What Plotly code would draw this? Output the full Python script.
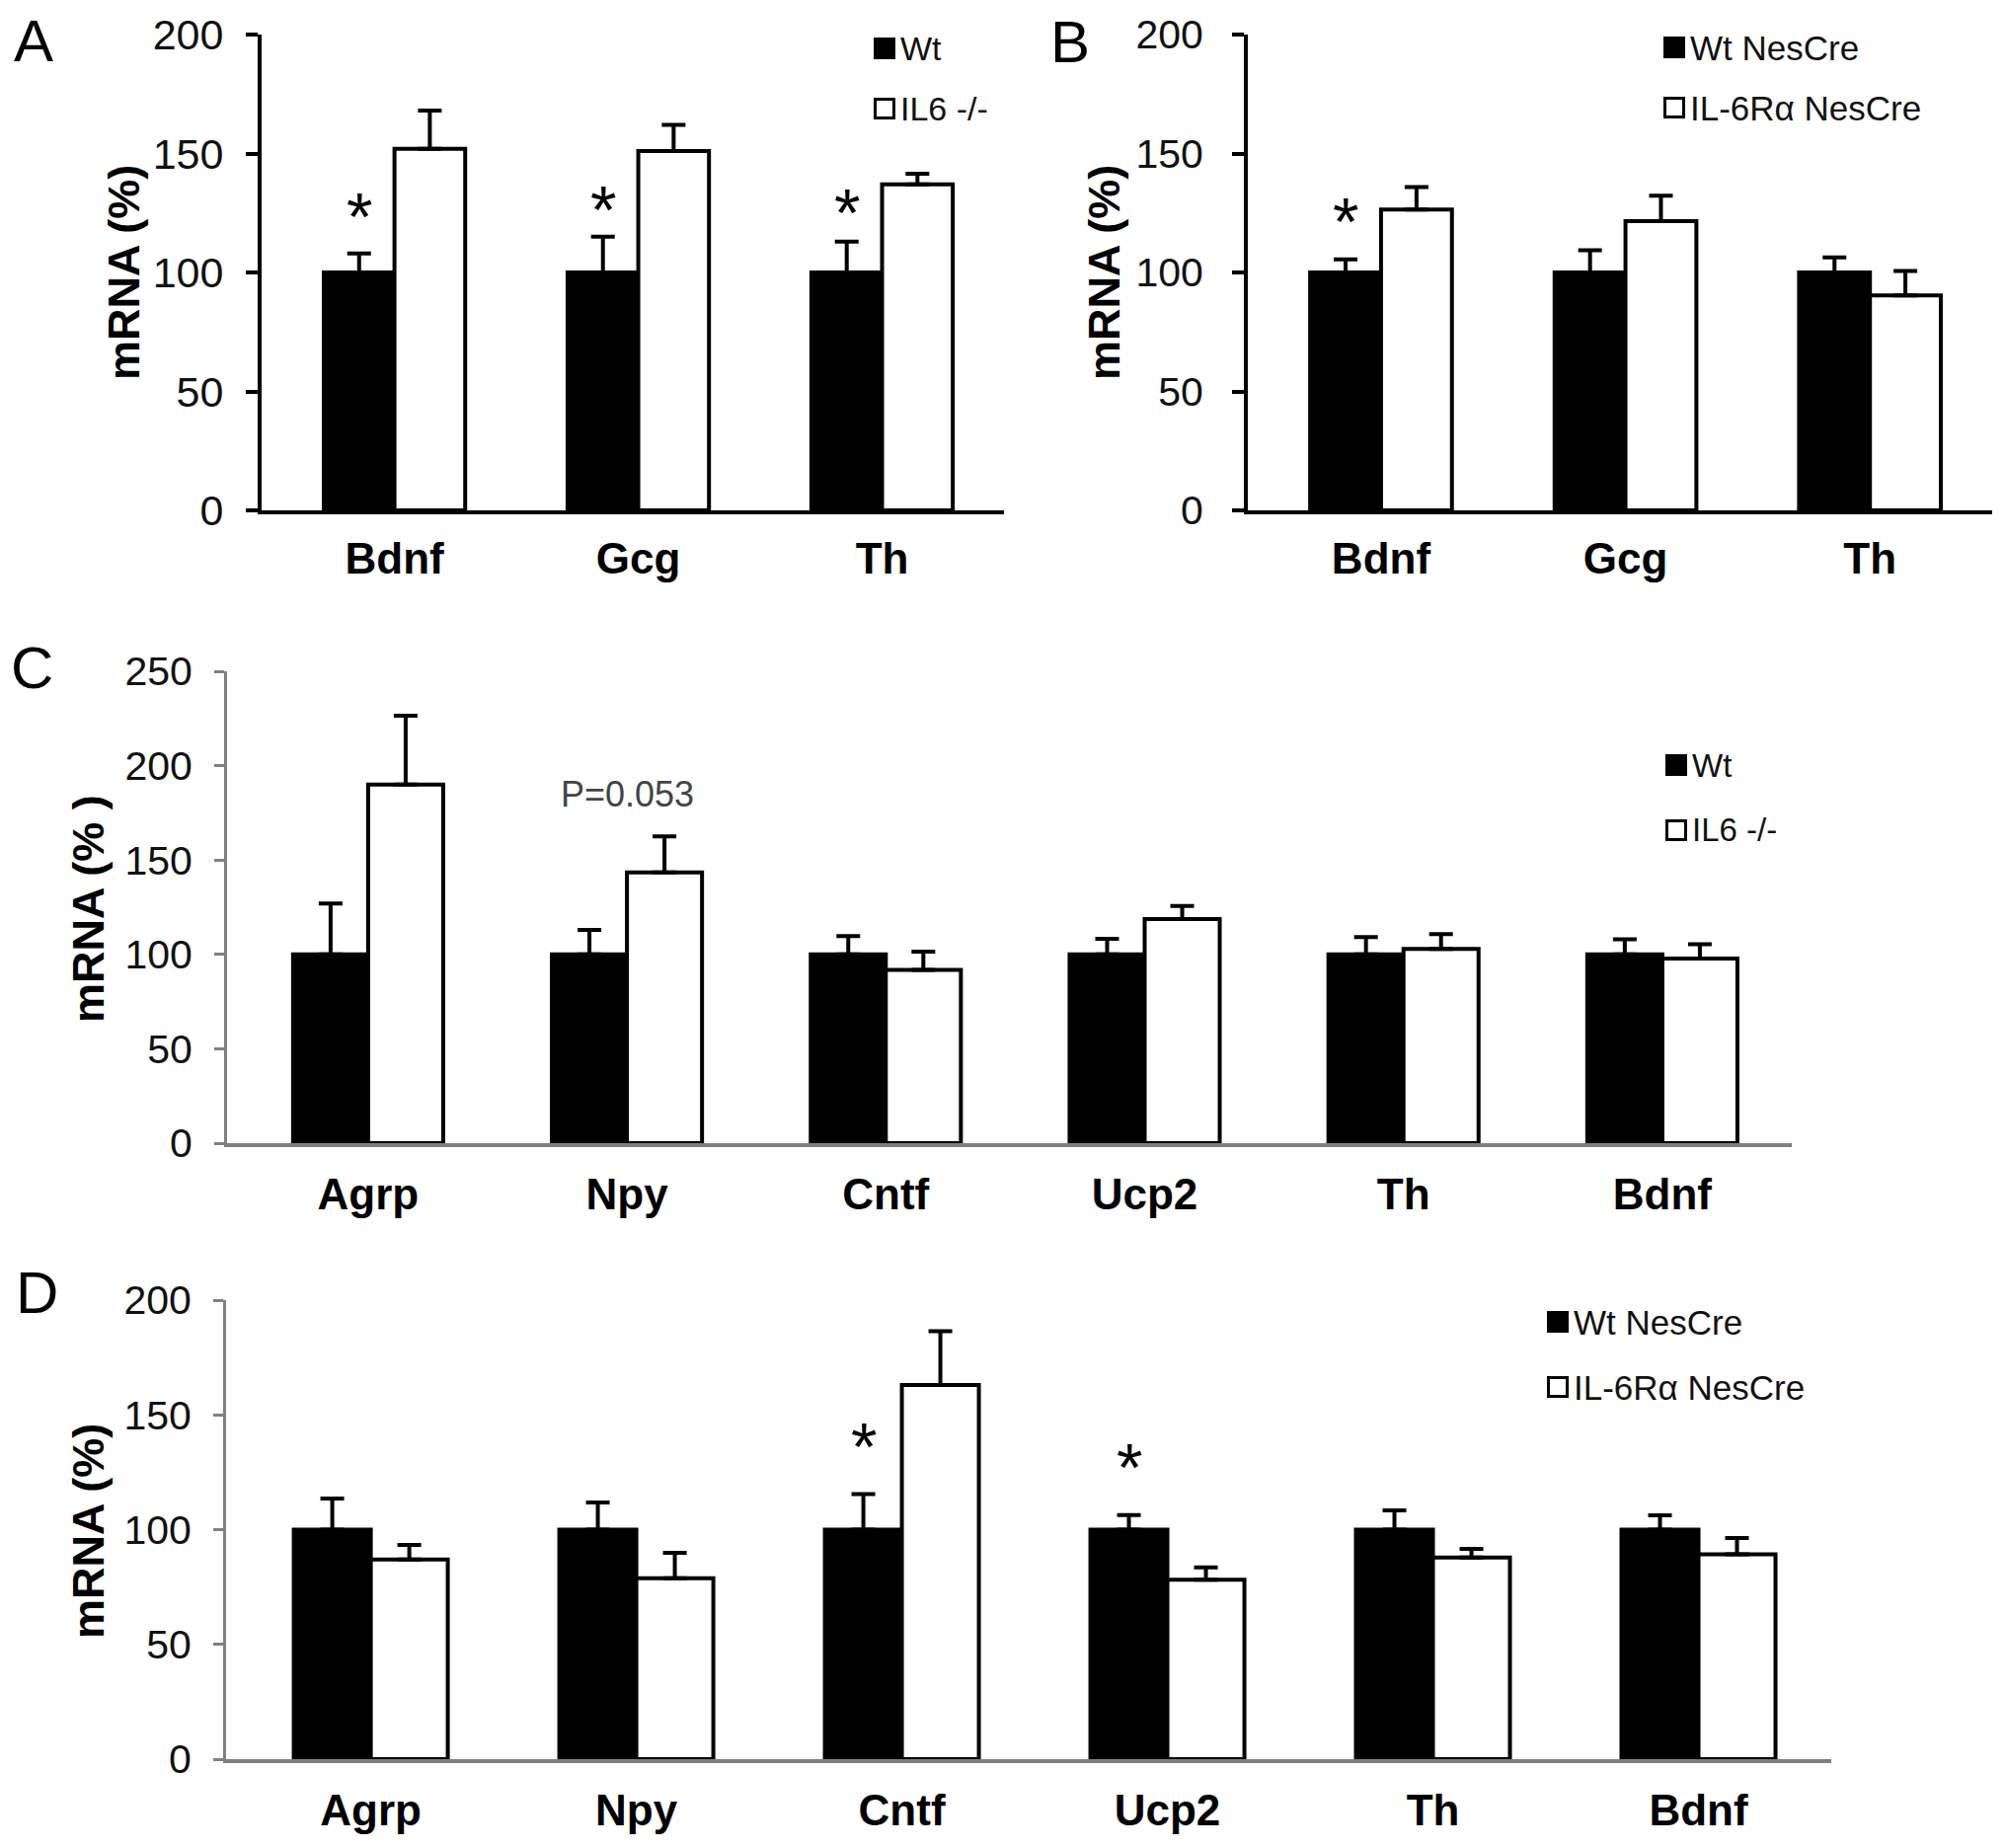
"""
mRNA expression bar charts, four panels (A-D).

A/C: Wt vs IL6 -/-, B/D: Wt NesCre vs IL-6Rα NesCre.
Black bars = control, white bars = knockout, error bars = SEM (upper only).
"""

import plotly.graph_objects as go

W, H = 2031, 1872

# Panel A - Wt vs IL6 -/-
genes_a = ['Bdnf', 'Gcg', 'Th']
wt_a = [100, 100, 100]
wt_a_err = [8, 15, 13]
ko_a = [152, 151, 137]
ko_a_err = [16, 11, 4.5]
star_a = [126, 129, 128]          # '*' above the Wt bars

# Panel B - Wt NesCre vs IL-6Rα NesCre
genes_b = ['Bdnf', 'Gcg', 'Th']
wt_b = [100, 100, 100]
wt_b_err = [5.5, 9.3, 6.3]
ko_b = [126.5, 121.6, 90.4]
ko_b_err = [9.4, 10.7, 10.2]
star_b = [124, None, None]

# Panel C - Wt vs IL6 -/-
genes_c = ['Agrp', 'Npy', 'Cntf', 'Ucp2', 'Th', 'Bdnf']
wt_c = [100, 100, 100, 100, 100, 100]
wt_c_err = [27, 13, 9.7, 8.2, 9.2, 8]
ko_c = [190, 143.5, 91.8, 118.7, 102.9, 97.8]
ko_c_err = [36.5, 19, 9.6, 7, 7.8, 7.6]
star_c = [None, None, None, None, None, None]

# Panel D - Wt NesCre vs IL-6Rα NesCre
genes_d = ['Agrp', 'Npy', 'Cntf', 'Ucp2', 'Th', 'Bdnf']
wt_d = [100, 100, 100, 100, 100, 100]
wt_d_err = [13.5, 11.8, 15.5, 6.3, 8.4, 6.2]
ko_d = [87, 78.8, 163, 78.2, 87.9, 89.3]
ko_d_err = [6.3, 11.1, 23.5, 5.4, 3.7, 7]
star_d = [None, None, 139, 130, None, None]

FONT = 'Liberation Sans, Arial, sans-serif'
BARGAP = 0.42


def fx(px):
    return px / W


def fy(px):
    return 1 - px / H


panels = [
    dict(letter='A', ax='', genes=genes_a, wt=wt_a, wt_err=wt_a_err, ko=ko_a, ko_err=ko_a_err,
         stars=star_a, names=('Wt', 'IL6 -/-'), ymax=200, yfont=43,
         xdom=(265, 1017), ydom=(35, 517), axcolor='black', yw=4, ticklen=12, ystand=14, xstand=7,
         ytitle='mRNA (%)', ytitle_xy=(125, 276), letter_xy=(34, 41),
         leg_x=885, leg_y=(49, 110), leg_size=34),
    dict(letter='B', ax='2', genes=genes_b, wt=wt_b, wt_err=wt_b_err, ko=ko_b, ko_err=ko_b_err,
         stars=star_b, names=('Wt NesCre', 'IL-6Rα NesCre'), ymax=200, yfont=41,
         xdom=(1264, 2018), ydom=(35, 517), axcolor='black', yw=4, ticklen=12, ystand=21, xstand=7,
         ytitle='mRNA (%)', ytitle_xy=(1118, 276), letter_xy=(1084, 42),
         leg_x=1685, leg_y=(48, 109), leg_size=35),
    dict(letter='C', ax='3', genes=genes_c, wt=wt_c, wt_err=wt_c_err, ko=ko_c, ko_err=ko_c_err,
         stars=star_c, names=('Wt', 'IL6 -/-'), ymax=250, yfont=41,
         xdom=(230, 1815), ydom=(680, 1158), axcolor='#808080', yw=3, ticklen=10, ystand=14, xstand=10,
         ytitle='mRNA (% )', ytitle_xy=(89, 921), letter_xy=(32, 676),
         leg_x=1687, leg_y=(775, 841), leg_size=33),
    dict(letter='D', ax='4', genes=genes_d, wt=wt_d, wt_err=wt_d_err, ko=ko_d, ko_err=ko_d_err,
         stars=star_d, names=('Wt NesCre', 'IL-6Rα NesCre'), ymax=200, yfont=41,
         xdom=(229, 1855), ydom=(1317, 1782), axcolor='#808080', yw=3, ticklen=10, ystand=14, xstand=10,
         ytitle='mRNA (%)', ytitle_xy=(89, 1551), letter_xy=(37, 1309),
         leg_x=1567, leg_y=(1339, 1405), leg_size=35),
]

fig = go.Figure()
annotations = []
shapes = []

bar_w = (1 - BARGAP) / 2

for p in panels:
    xa, ya = 'x' + p['ax'], 'y' + p['ax']
    n = len(p['genes'])

    # Bars with upper error bars
    for vals, errs, fill, name in [(p['wt'], p['wt_err'], 'black', p['names'][0]),
                                   (p['ko'], p['ko_err'], 'white', p['names'][1])]:
        fig.add_trace(go.Bar(
            x=p['genes'], y=vals, name=name, xaxis=xa, yaxis=ya,
            marker=dict(color=fill, line=dict(color='black', width=4)),
            error_y=dict(type='data', array=errs, arrayminus=[0] * n, symmetric=False,
                         color='black', thickness=4, width=12),
            showlegend=False
        ))

    xkey = 'xaxis' + p['ax']
    ykey = 'yaxis' + p['ax']
    fig.update_layout({
        xkey: dict(
            domain=[fx(p['xdom'][0]), fx(p['xdom'][1])],
            anchor=ya, type='category', range=[-0.545, n - 0.5],
            showline=True, linecolor=p['axcolor'], linewidth=4,
            ticks='', showgrid=False, zeroline=False, automargin=False,
            tickfont=dict(family=FONT, size=44, color='black', weight='bold'),
            ticklabelstandoff=p['xstand'], fixedrange=True
        ),
        ykey: dict(
            domain=[fy(p['ydom'][1]), fy(p['ydom'][0])],
            anchor=xa, range=[0, p['ymax']], dtick=50, tick0=0,
            showline=True, linecolor=p['axcolor'], linewidth=p['yw'],
            ticks='outside', ticklen=p['ticklen'], tickwidth=p['yw'], tickcolor=p['axcolor'],
            showgrid=False, zeroline=False, automargin=False,
            tickfont=dict(family=FONT, size=p['yfont'], color='#111'),
            ticklabelstandoff=p['ystand'], fixedrange=True
        ),
    })

    # Significance stars over the control bars
    for i, sy in enumerate(p['stars']):
        if sy is None:
            continue
        annotations.append(dict(
            x=i - bar_w / 2, y=sy, xref=xa, yref=ya, text='*', showarrow=False,
            xanchor='center', yanchor='middle',
            font=dict(family=FONT, size=68, color='black'), yshift=-6
        ))

    # Panel letter and y-axis title
    annotations.append(dict(
        x=fx(p['letter_xy'][0]), y=fy(p['letter_xy'][1]), xref='paper', yref='paper',
        xanchor='center', yanchor='middle',
        text=p['letter'], showarrow=False, font=dict(family=FONT, size=60, color='black')
    ))
    annotations.append(dict(
        x=fx(p['ytitle_xy'][0]), y=fy(p['ytitle_xy'][1]), xref='paper', yref='paper',
        xanchor='center', yanchor='middle',
        text=p['ytitle'], textangle=-90, showarrow=False,
        font=dict(family=FONT, size=45, color='black', weight='bold')
    ))

    # Legend: square swatch + label
    for fill, name, cy in [('black', p['names'][0], p['leg_y'][0]),
                           ('white', p['names'][1], p['leg_y'][1])]:
        shapes.append(dict(
            type='rect', xref='paper', yref='paper',
            x0=fx(p['leg_x'] + 1.5), x1=fx(p['leg_x'] + 20.5),
            y0=fy(cy + 9.5), y1=fy(cy - 9.5),
            fillcolor=fill, line=dict(color='black', width=3)
        ))
        annotations.append(dict(
            x=fx(p['leg_x'] + 25), y=fy(cy), xref='paper', yref='paper',
            xanchor='left', yanchor='middle', text=name, showarrow=False,
            font=dict(family=FONT, size=p['leg_size'], color='#111')
        ))

# Borderline p-value for Npy in panel C
annotations.append(dict(
    x='Npy', y=185, xref='x3', yref='y3', text='P=0.053', showarrow=False,
    xanchor='center', yanchor='middle',
    font=dict(family=FONT, size=36, color='#444')
))

fig.update_layout(
    width=W, height=H,
    margin=dict(l=0, r=0, t=0, b=0, autoexpand=False),
    paper_bgcolor='white', plot_bgcolor='white',
    barmode='group', bargap=BARGAP, bargroupgap=0,
    annotations=annotations, shapes=shapes,
    showlegend=False
)

# drop the default 8px body margin so the figure fills the window exactly
fig.write_html("out.html", config={'displayModeBar': False},
               post_script="document.body.style.margin='0';")
